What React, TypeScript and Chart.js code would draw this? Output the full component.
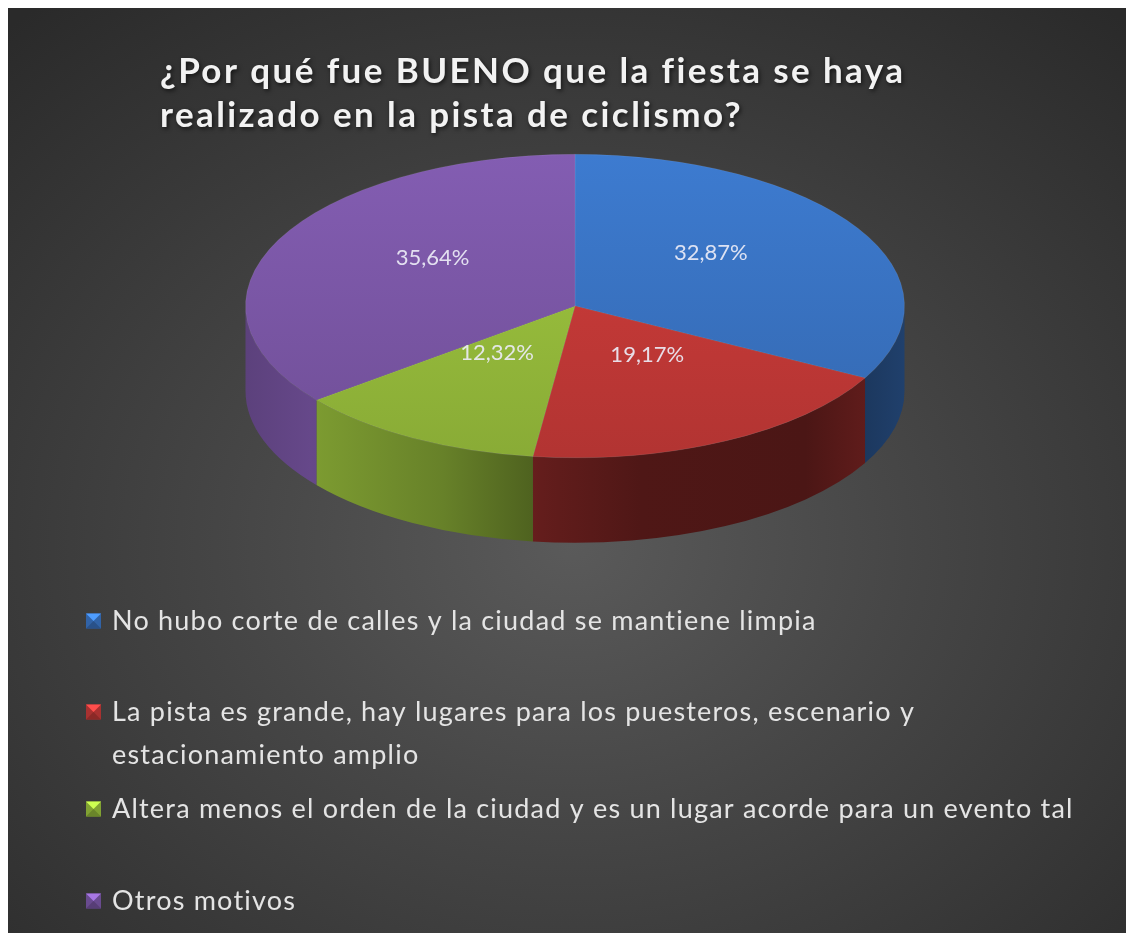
import React, { useEffect, useRef } from "react";
import { Chart, registerables } from "chart.js";

Chart.register(...registerables);

// ---------- data ----------
const TITLE_LINES = [
  "¿Por qué fue BUENO que la fiesta se haya",
  "realizado en la pista de ciclismo?",
];
const CATEGORIES = [
  "No hubo corte de calles y la ciudad se mantiene limpia",
  "La pista es grande, hay lugares para los puesteros, escenario y estacionamiento amplio",
  "Altera menos el orden de la ciudad y es un lugar acorde para un evento tal",
  "Otros motivos",
];
const LEGEND_LINES = [
  ["No hubo corte de calles y la ciudad se mantiene limpia"],
  ["La pista es grande, hay lugares para los puesteros, escenario y", "estacionamiento amplio"],
  ["Altera menos el orden de la ciudad y es un lugar acorde para un evento tal"],
  ["Otros motivos"],
];
const VALUES = [32.87, 19.17, 12.32, 35.64];
const COLORS: number[][] = [
  [58, 116, 196],
  [198, 58, 56],
  [152, 190, 60],
  [124, 88, 168],
];

// ---------- layout / style ----------
const W = 1126;
const H = 925;
const CX = 567;
const CY = 298;
const RX = 330;
const RY = 152;
const DEPTH = 85;
const K = RY / RX;
const LABEL_F = 0.48;
const LABEL_LIFT = 16;
const SIDE_STOPS: number[][] = [
  [0, 0.74],
  [0.1, 0.82],
  [0.3, 0.68],
  [0.45, 0.5],
  [0.6, 0.4],
  [0.85, 0.38],
  [1, 0.55],
];
const TITLE_X = 152;
const TITLE_Y = [75, 119];
const TITLE_W = 745;
const LEGEND_X = 104;
const LEGEND_MARK_X = 78;
const LEGEND_Y = [[613], [704, 747], [801], [893]];
const LEGEND_W0 = 705;

function rgb(c: number[], f: number) {
  const v = c.map((x) => Math.max(0, Math.min(255, Math.round(x * f))));
  return `rgb(${v[0]},${v[1]},${v[2]})`;
}

function fmt(v: number) {
  return v.toFixed(2).replace(".", ",") + "%";
}

const pie3d = {
  id: "pie3d",
  beforeDatasetsDraw(chart: any) {
    const ctx = chart.ctx as CanvasRenderingContext2D;
    const arcs = chart.getDatasetMeta(0).data as any[];
    chart.$p3saved = false;
    if (!arcs.length) return;
    const { x: ux, y: uy, outerRadius: r } = arcs[0].getProps(["x", "y", "outerRadius"], true);
    ctx.save();
    chart.$p3saved = true;
    ctx.translate(CX, CY);
    ctx.scale(1, K);
    ctx.translate(-ux, -uy);
    const D = DEPTH / K;
    arcs.forEach((arc, i) => {
      const { startAngle: s, endAngle: e } = arc.getProps(["startAngle", "endAngle"], true);
      const g = ctx.createLinearGradient(ux - r, 0, ux + r, 0);
      SIDE_STOPS.forEach(([p, f]) => g.addColorStop(p, rgb(COLORS[i], f)));
      for (const off of [-2 * Math.PI, 0, 2 * Math.PI]) {
        const a = Math.max(s, off);
        const b = Math.min(e, off + Math.PI);
        if (b <= a) continue;
        ctx.beginPath();
        ctx.arc(ux, uy, r, a, b);
        ctx.arc(ux, uy + D, r, b, a, true);
        ctx.closePath();
        ctx.fillStyle = g;
        ctx.fill();
      }
    });
  },
  afterDatasetsDraw(chart: any) {
    const ctx = chart.ctx as CanvasRenderingContext2D;
    if (chart.$p3saved) ctx.restore();
    chart.$p3saved = false;
    const arcs = chart.getDatasetMeta(0).data as any[];
    ctx.save();
    ctx.font = "22px Lato";
    ctx.fillStyle = "rgba(236,236,246,0.92)";
    ctx.textAlign = "center";
    ctx.textBaseline = "middle";
    arcs.forEach((arc, i) => {
      const { startAngle: s, endAngle: e, outerRadius: r } = arc.getProps(
        ["startAngle", "endAngle", "outerRadius"],
        true
      );
      const m = (s + e) / 2;
      const x = CX + LABEL_F * r * Math.cos(m);
      const y = CY - LABEL_LIFT + LABEL_F * r * K * Math.sin(m);
      ctx.fillText(fmt(VALUES[i]), x, y);
    });
    ctx.restore();
  },
  afterDraw(chart: any) {
    const ctx = chart.ctx as CanvasRenderingContext2D;
    // title
    ctx.save();
    ctx.font = "bold 35px Lato";
    ctx.textAlign = "left";
    ctx.textBaseline = "alphabetic";
    (ctx as any).letterSpacing = "0px";
    const w0 = ctx.measureText(TITLE_LINES[0]).width;
    const sp = (TITLE_W - w0) / TITLE_LINES[0].length;
    (ctx as any).letterSpacing = sp.toFixed(2) + "px";
    ctx.shadowColor = "rgba(0,0,0,0.6)";
    ctx.shadowBlur = 4;
    ctx.shadowOffsetX = 1.5;
    ctx.shadowOffsetY = 1.5;
    ctx.fillStyle = "#f2f2f2";
    TITLE_LINES.forEach((t, i) => ctx.fillText(t, TITLE_X, TITLE_Y[i]));
    ctx.restore();

    // legend
    ctx.save();
    ctx.font = "27px Lato";
    ctx.textAlign = "left";
    ctx.textBaseline = "middle";
    (ctx as any).letterSpacing = "0px";
    const lw = ctx.measureText(LEGEND_LINES[0][0]).width;
    const lsp = (LEGEND_W0 - lw) / LEGEND_LINES[0][0].length;
    (ctx as any).letterSpacing = lsp.toFixed(2) + "px";
    LEGEND_LINES.forEach((lines, i) => {
      const ys = LEGEND_Y[i];
      // marker
      const s = 15;
      const mx = LEGEND_MARK_X;
      const my = ys[0] - s / 2;
      const c = COLORS[i];
      ctx.fillStyle = rgb(c, 0.85);
      ctx.fillRect(mx, my, s, s);
      ctx.fillStyle = rgb(c, 1.35);
      ctx.beginPath();
      ctx.moveTo(mx, my);
      ctx.lineTo(mx + s, my);
      ctx.lineTo(mx + s / 2, my + s / 2);
      ctx.closePath();
      ctx.fill();
      ctx.fillStyle = rgb(c, 0.7);
      ctx.beginPath();
      ctx.moveTo(mx, my + s);
      ctx.lineTo(mx + s, my + s);
      ctx.lineTo(mx + s / 2, my + s / 2);
      ctx.closePath();
      ctx.fill();
      ctx.fillStyle = "#e4e4e4";
      lines.forEach((t, j) => ctx.fillText(t, LEGEND_X, ys[j]));
    });
    ctx.restore();
  },
};

export default function App() {
  const ref = useRef<HTMLCanvasElement | null>(null);
  useEffect(() => {
    document.documentElement.style.overflow = "hidden";
    document.body.style.overflow = "hidden";
    const canvas = ref.current!;
    const chart = new Chart(canvas, {
      type: "pie",
      data: {
        labels: CATEGORIES,
        datasets: [
          {
            data: VALUES,
            backgroundColor: (c: any) => {
              const col = COLORS[c.dataIndex] || COLORS[0];
              const ch = c.chart;
              const ca = ch.chartArea;
              if (!ca) return rgb(col, 1);
              const cy = (ca.top + ca.bottom) / 2;
              const r = Math.min(ca.right - ca.left, ca.bottom - ca.top) / 2;
              const g = ch.ctx.createLinearGradient(0, cy - r, 0, cy + r);
              g.addColorStop(0, rgb(col, 1.06));
              g.addColorStop(1, rgb(col, 0.9));
              return g;
            },
            borderWidth: 1,
            borderColor: "rgba(255,255,255,0.10)",
          },
        ],
      },
      options: {
        responsive: false,
        animation: false,
        devicePixelRatio: 1,
        events: [],
        layout: { padding: { left: CX - RX, right: W - CX - RX, top: 132, bottom: H - 132 - 2 * RX } },
        plugins: {
          legend: { display: false },
          tooltip: { enabled: false },
          title: { display: false },
        },
      },
      plugins: [pie3d],
    } as any);
    return () => chart.destroy();
  }, []);
  return (
    <div
      style={{
        width: W,
        height: H,
        background:
          "radial-gradient(ellipse 75% 75% at 50% 58%, #5a5a5a 0%, #464646 40%, #2a2a2a 100%)",
      }}
    >
      <canvas ref={ref} width={W} height={H} style={{ display: "block" }} />
    </div>
  );
}
